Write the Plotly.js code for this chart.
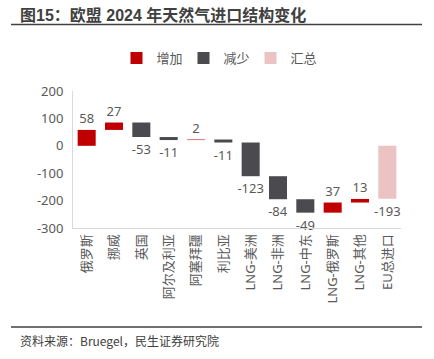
<!DOCTYPE html>
<html><head><meta charset="utf-8">
<script src="https://cdn.plot.ly/plotly-3.0.1.min.js"></script>
<style>html,body{margin:0;padding:0;background:#fff}#chart{width:434px;height:359px}</style>
</head><body><div id="chart"></div>
<script>
const categories = ['俄罗斯','挪威','英国','阿尔及利亚','阿塞拜疆','利比亚','LNG-美洲','LNG-非洲','LNG-中东','LNG-俄罗斯','LNG-其他','EU总进口'];
const changes = [58, 27, -53, -11, 2, -11, -123, -84, -49, 37, 13];
const totalValue = -193;
const yTicks = [200, 100, 0, -100, -200, -300];

// build bases from cumulative sums
const bases = [];
let run = 0;
changes.forEach(v => { bases.push(run); run += v; });

const inc = {x:[], y:[], base:[], text:[]};
const dec = {x:[], y:[], base:[], text:[]};
changes.forEach((v,i) => {
  const t = v > 0 ? inc : dec;
  t.x.push(categories[i]); t.y.push(v); t.base.push(bases[i]); t.text.push(String(v));
});

const font = '"Noto Sans", "Noto Sans CJK SC", sans-serif';
const cjk = '"Noto Sans CJK SC", "Noto Sans", sans-serif';
const titleFont = '"Liberation Sans", "Noto Sans CJK SC", sans-serif';
const common = {type:'bar', textposition:'outside', cliponaxis:false, constraintext:'none',
  textfont:{family:font, size:13, color:'#595959'}, hoverinfo:'none'};

const traces = [
  Object.assign({}, common, {name:'增加', x:inc.x, y:inc.y, base:inc.base, text:inc.text, marker:{color:'#C00000'}}),
  Object.assign({}, common, {name:'减少', x:dec.x, y:dec.y, base:dec.base, text:dec.text, marker:{color:'#4B4B4F'}}),
  Object.assign({}, common, {name:'汇总', x:[categories[categories.length-1]], y:[totalValue], base:[0], text:[String(totalValue)], marker:{color:'#EBC3C3'}})
];

const layout = {
  width:434, height:359,
  margin:{l:73, r:33, t:91, b:131},
  paper_bgcolor:'#fff', plot_bgcolor:'#fff',
  barmode:'overlay', bargap:0.34,
  font:{family:font, color:'#595959'},
  showlegend:true,
  legend:{orientation:'h', xref:'container', yref:'container', x:0.5, xanchor:'center', y:1-58/359, yanchor:'middle',
    font:{family:cjk, size:13, color:'#595959'}, itemwidth:30, traceorder:'normal', entrywidth:22, entrywidthmode:'pixels'},
  xaxis:{categoryorder:'array', categoryarray:categories, tickangle:-90, showline:true, linecolor:'#D9D9D9', linewidth:1,
    ticks:'', tickfont:{family:font, size:13, color:'#595959'}, showgrid:false, zeroline:false, fixedrange:true},
  yaxis:{range:[-300,200], tickvals:yTicks, ticktext:yTicks.map(String), showline:true, linecolor:'#D9D9D9', linewidth:1,
    ticks:'', showgrid:false, zeroline:false, tickfont:{family:font, size:13, color:'#595959'}, ticklabelstandoff:6},
  annotations:[
    {text:'<b>图15：欧盟 2024 年天然气进口结构变化</b>', xref:'paper', yref:'paper', x:0, y:0, xanchor:'left', yanchor:'middle',
      font:{family:titleFont, size:16, color:'#404040'}, showarrow:false},
    {text:'资料来源：Bruegel，民生证券研究院', xref:'paper', yref:'paper', x:0, y:0, xanchor:'left', yanchor:'middle',
      font:{family:cjk, size:12, color:'#404040'}, showarrow:false}
  ],
  shapes:[
    {type:'line', xref:'paper', yref:'paper', x0:0, x1:1, y0:0, y1:0, line:{color:'#404040', width:1.5}},
    {type:'line', xref:'paper', yref:'paper', x0:0, x1:1, y0:0, y1:0, line:{color:'#404040', width:1.5}}
  ]
};

// convert pixel positions to paper coords
const pw = 434-73-33, ph = 359-91-131;
const px = x => (x-73)/pw, py = y => (359-131-y)/ph;
layout.annotations[0].x = px(18); layout.annotations[0].y = py(15);
layout.annotations[1].x = px(18); layout.annotations[1].y = py(340);
layout.shapes[0].x0 = px(11); layout.shapes[0].x1 = px(422); layout.shapes[0].y0 = layout.shapes[0].y1 = py(24.5);
layout.shapes[1].x0 = px(11); layout.shapes[1].x1 = px(422); layout.shapes[1].y0 = layout.shapes[1].y1 = py(327);

Plotly.newPlot('chart', traces, layout, {staticPlot:true, displayModeBar:false});
</script></body></html>
